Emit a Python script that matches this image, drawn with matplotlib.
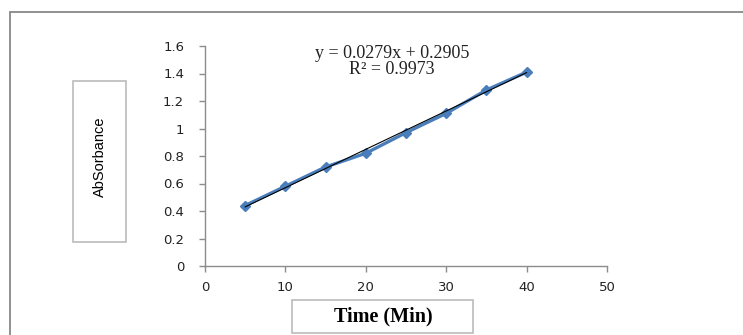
import numpy as np
import matplotlib.pyplot as plt
from matplotlib.patches import Rectangle

# data
time_min = [5, 10, 15, 20, 25, 30, 35, 40]
absorbance = [0.44, 0.58, 0.72, 0.82, 0.97, 1.11, 1.28, 1.41]
slope, intercept, r2 = 0.0279, 0.2905, 0.9973

x_ticks = [0, 10, 20, 30, 40, 50]
y_ticks = [0, 0.2, 0.4, 0.6, 0.8, 1, 1.2, 1.4, 1.6]
y_tick_labels = ['0', '0.2', '0.4', '0.6', '0.8', '1', '1.2', '1.4', '1.6']

fig = plt.figure(figsize=(7.43, 3.35), dpi=100)
ax = fig.add_axes([205 / 743, 1 - 266 / 335, 402 / 743, 220 / 335])

axis_grey = '#8c8c8c'
ax.plot(time_min, absorbance, color='#4a7ebb', lw=2.4, marker='D', ms=5.5,
        markerfacecolor='#4a7ebb', markeredgecolor='#4a7ebb', zorder=3)

# linear trendline from the fitted equation
xt = np.array([time_min[0], time_min[-1]])
ax.plot(xt, slope * xt + intercept, color='black', lw=0.8, zorder=4)

ax.set_xlim(0, 50)
ax.set_ylim(0, 1.6)
ax.set_xticks(x_ticks)
ax.set_yticks(y_ticks)
ax.set_yticklabels(y_tick_labels)
for s in ['top', 'right']:
    ax.spines[s].set_visible(False)
for s in ['left', 'bottom']:
    ax.spines[s].set_color(axis_grey)
    ax.spines[s].set_linewidth(1)
ax.tick_params(colors=axis_grey, length=4, width=1, labelcolor='#222222',
               labelsize=9.5)
ax.tick_params(axis='y', pad=11)
ax.tick_params(axis='x', pad=7)

fig.text(392 / 743, 1 - 53 / 335, 'y = 0.0279x + 0.2905', ha='center',
         va='center', family='Liberation Serif', fontsize=13, color='#222222')
fig.text(392 / 743, 1 - 70 / 335, f'R\u00b2 = {r2}', ha='center',
         va='center', family='Liberation Serif', fontsize=13, color='#222222')

# boxed axis labels
fig.patches.append(Rectangle((73 / 743, 1 - 242 / 335), 53 / 743, 161 / 335,
                             transform=fig.transFigure, fill=False,
                             edgecolor='#bbbbbb', lw=1.2))
fig.text(100 / 743, 1 - 157 / 335, 'AbSorbance', rotation=90, ha='center',
         va='center', fontsize=10.5, family='Liberation Sans', color='black')

fig.patches.append(Rectangle((292 / 743, 1 - 333 / 335), 181 / 743, 33 / 335,
                             transform=fig.transFigure, fill=False,
                             edgecolor='#bbbbbb', lw=1.2))
fig.text(383 / 743, 1 - 316 / 335, 'Time (Min)', ha='center', va='center',
         fontsize=14.5, family='Liberation Serif', weight='bold', color='black')

# outer chart border (only top and left visible)
fig.patches.append(Rectangle((9.5 / 743, -0.1), 1, 1 - 12 / 335 + 0.1,
                             transform=fig.transFigure, fill=False,
                             edgecolor='#888888', lw=1.3))

fig.savefig('out.png', dpi=100)
